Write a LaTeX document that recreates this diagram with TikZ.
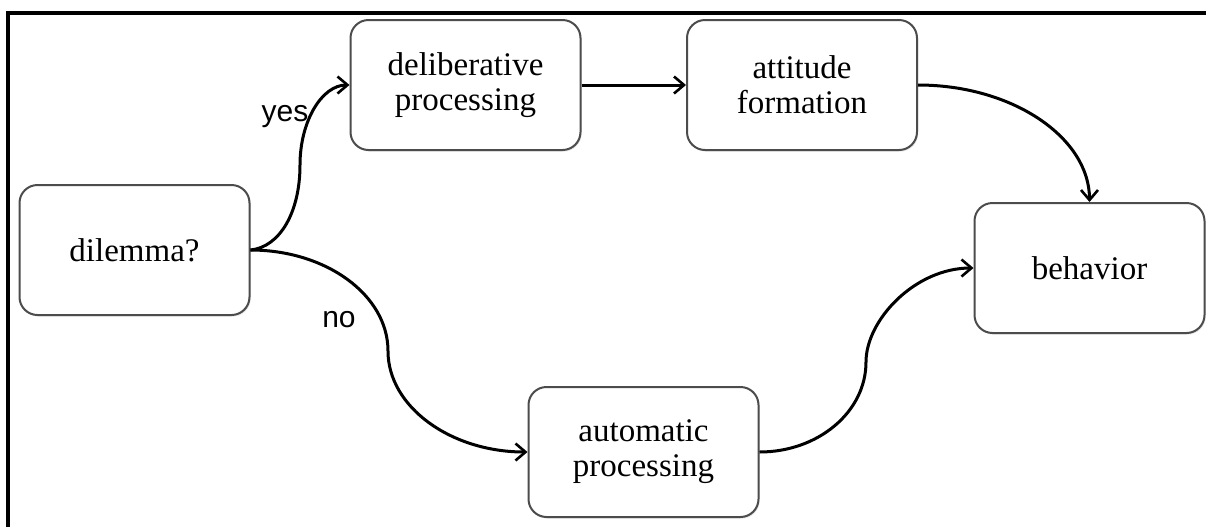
\documentclass[tikz,border=0pt]{standalone}
\usepackage{fontspec}
\setmainfont{Liberation Serif}
\newfontfamily\labelfont{Liberation Sans}
\usetikzlibrary{arrows.meta,shadows}
\begin{document}
\begin{tikzpicture}[x=0.5pt,y=-0.5pt,
  box/.style={draw=black!70, line width=1pt, rounded corners=9pt, fill=white,
    minimum width=115pt, minimum height=65pt, align=center,
    font=\fontsize{16.5}{17.5}\selectfont,
    drop shadow={opacity=0.18, shadow xshift=0.6pt, shadow yshift=-0.8pt}},
  conn/.style={line width=1.5pt, -{Straight Barb[length=5pt,width=8.5pt,line width=1.3pt]}},
  lbl/.style={font=\labelfont\fontsize{15}{17}\selectfont, inner sep=0pt}]
\useasboundingbox (0,0) rectangle (1206,527);
\fill[white] (0,0) rectangle (1206,527);
% frame
\coordinate (ftl) at (8,13);
\coordinate (ftr) at (1206,13);
\coordinate (fbl) at (8,527);
\draw[line width=2pt] (fbl) -- (ftl) -- (ftr);
% nodes
\node[box] (dil) at (134.5,250) {dilemma?};
\node[box] (del) at (465.5,85) {deliberative\\processing};
\node[box] (att) at (802,85) {attitude\\formation};
\node[box] (beh) at (1089.5,268) {behavior};
\node[box] (aut) at (643.5,452) {automatic\\processing};
% turning points of the S-shaped connectors
\coordinate (myes) at (300,165);
\coordinate (mno) at (388,351);
\coordinate (maut) at (866,362);
% connectors
\draw[conn] (dil.east) .. controls (280,247) and (300,212) .. (myes)
  .. controls (300,121) and (322,85) .. (del.west);
\draw[conn] (dil.east) .. controls (326,250) and (388,295) .. (mno)
  .. controls (388,407) and (451,452) .. (aut.west);
\draw[conn] (del.east) -- (att.west);
\draw[conn] (att.east) .. controls (1013,85) and (1089.5,138) .. (beh.north);
\draw[conn] (aut.east) .. controls (818,452) and (866,412) .. (maut)
  .. controls (866,320) and (915,268) .. (beh.west);
% labels
\node[lbl] (yes) at (285,117) {yes};
\node[lbl] (no) at (339,320) {no};
\end{tikzpicture}
\end{document}
